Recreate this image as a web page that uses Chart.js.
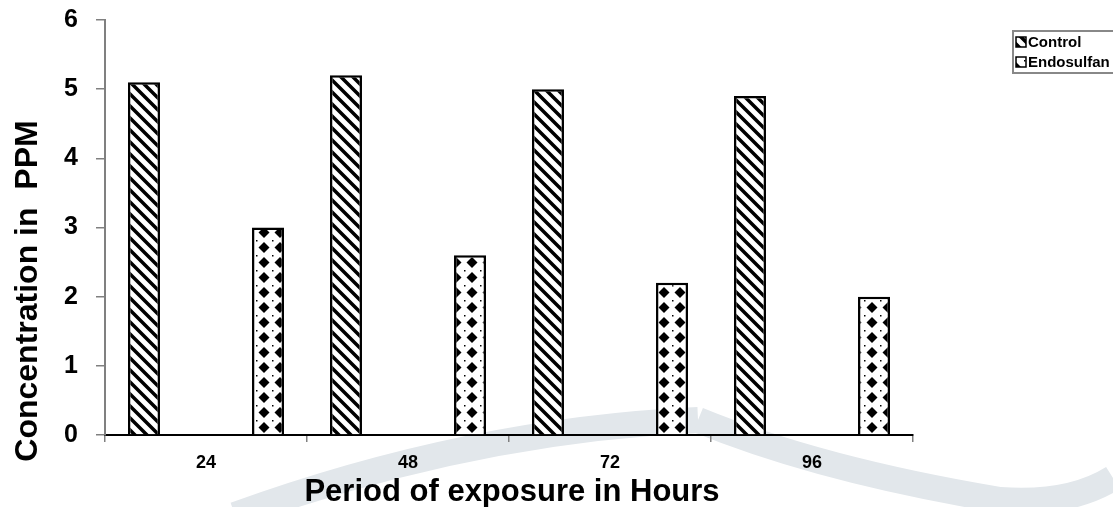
<!DOCTYPE html>
<html>
<head>
<meta charset="utf-8">
<script src="https://cdn.jsdelivr.net/npm/chart.js@4.4.1/dist/chart.umd.min.js"></script>
<style>
  html, body { margin: 0; padding: 0; background: #fff; }
  #wrap { width: 1113px; height: 507px; position: relative; }
</style>
</head>
<body>
<div id="wrap"><canvas id="chart"></canvas></div>
<script>
// data
const categories = ['24', '48', '72', '96'];
const controlValues = [5.1, 5.2, 5.0, 4.9];
const endosulfanValues = [3.0, 2.6, 2.2, 2.0];
const seriesNames = ['Control', 'Endosulfan'];
const yMin = 0, yMax = 6, yStep = 1;

const FONT = '"Liberation Sans", Arial, sans-serif';

// hatch patterns like the old office chart
function stripePattern() {
    const s = 12;
    const c = document.createElement('canvas');
    c.width = s; c.height = s;
    const g = c.getContext('2d');
    g.fillStyle = '#fff';
    g.fillRect(0, 0, s, s);
    g.strokeStyle = '#000';
    g.lineWidth = 3.5;
    g.beginPath();
    g.moveTo(-s, -s); g.lineTo(2 * s, 2 * s);
    g.moveTo(-s, 0); g.lineTo(s, 2 * s);
    g.moveTo(0, -s); g.lineTo(2 * s, s);
    g.stroke();
    return g.createPattern(c, 'repeat');
}

function diamondPattern() {
    const w = 16, h = 15;
    const c = document.createElement('canvas');
    c.width = w; c.height = h;
    const g = c.getContext('2d');
    g.fillStyle = '#fff';
    g.fillRect(0, 0, w, h);
    g.fillStyle = '#000';
    g.beginPath();
    g.moveTo(8, 2); g.lineTo(13.5, 7.5); g.lineTo(8, 13); g.lineTo(2.5, 7.5);
    g.closePath();
    g.fill();
    g.fillRect(0, 0, 1.5, 1.5);
    return g.createPattern(c, 'repeat');
}

const patterns = [stripePattern(), diamondPattern()];

const watermark = {
    id: 'watermark',
    beforeDraw(chart) {
        const ctx = chart.ctx;
        ctx.save();
        ctx.strokeStyle = '#e2e7eb';
        ctx.lineWidth = 26;
        ctx.lineCap = 'butt';
        ctx.beginPath();
        ctx.moveTo(235, 515);
        ctx.quadraticCurveTo(470, 430, 698, 420);
        ctx.stroke();
        ctx.beginPath();
        ctx.moveTo(698, 420);
        ctx.quadraticCurveTo(820, 470, 1000, 500);
        ctx.quadraticCurveTo(1070, 505, 1113, 478);
        ctx.stroke();
        ctx.restore();
    }
};

const titles = {
    id: 'titles',
    afterDraw(chart) {
        const ctx = chart.ctx;
        ctx.save();
        ctx.fillStyle = '#000';
        ctx.font = 'bold 31px ' + FONT;
        ctx.textAlign = 'center';
        ctx.textBaseline = 'alphabetic';
        ctx.fillText('Period of exposure in Hours', 512, 501);

        ctx.translate(37, 291);
        ctx.rotate(-Math.PI / 2);
        ctx.font = 'bold 32px ' + FONT;
        ctx.fillText('Concentration in  PPM', 0, 0);
        ctx.restore();

        // legend box
        ctx.save();
        ctx.strokeStyle = '#888';
        ctx.lineWidth = 2;
        ctx.strokeRect(1013, 31, 110, 42);
        ctx.font = 'bold 15px ' + FONT;
        ctx.textBaseline = 'middle';
        chart.data.datasets.forEach((ds, i) => {
            const y = 42 + i * 20;
            ctx.fillStyle = ds.backgroundColor;
            ctx.fillRect(1016, y - 5, 10, 10);
            ctx.strokeStyle = '#000';
            ctx.lineWidth = 1.5;
            ctx.strokeRect(1016, y - 5, 10, 10);
            ctx.fillStyle = '#000';
            ctx.fillText(ds.label, 1028, y + 1);
        });
        ctx.restore();
    }
};

new Chart(document.getElementById('chart'), {
    type: 'bar',
    data: {
        labels: categories,
        datasets: [
            {
                label: seriesNames[0],
                data: controlValues,
                backgroundColor: patterns[0],
                borderColor: '#000',
                borderWidth: 2.5
            },
            {
                label: seriesNames[1],
                data: endosulfanValues,
                backgroundColor: patterns[1],
                borderColor: '#000',
                borderWidth: 2.5
            }
        ]
    },
    options: {
        responsive: true,
        maintainAspectRatio: false,
        animation: false,
        categoryPercentage: 1.228,
        barPercentage: 0.258,
        layout: { padding: { left: 0, top: 20, right: 200, bottom: 0 } },
        plugins: {
            legend: { display: false },
            tooltip: { enabled: false },
            title: { display: false }
        },
        scales: {
            x: {
                afterFit(scale) { scale.height = 72; },
                grid: { drawOnChartArea: false, drawTicks: true, tickLength: 7, color: '#808080', lineWidth: 1.5 },
                border: { color: '#000', width: 2 },
                ticks: { color: '#000', font: { family: FONT, size: 18, weight: 'bold' }, padding: 10 }
            },
            y: {
                min: yMin,
                max: yMax,
                afterFit(scale) {
                    scale.width = 105;
                    scale.paddingTop = 0;
                    scale.paddingBottom = 0;
                },
                grid: { drawOnChartArea: false, drawTicks: true, tickLength: 9, color: '#808080', lineWidth: 1.5 },
                border: { color: '#808080', width: 2 },
                ticks: { stepSize: yStep, color: '#000', font: { family: FONT, size: 25, weight: 'bold' }, padding: 18 }
            }
        }
    },
    plugins: [watermark, titles]
});
</script>
</body>
</html>
